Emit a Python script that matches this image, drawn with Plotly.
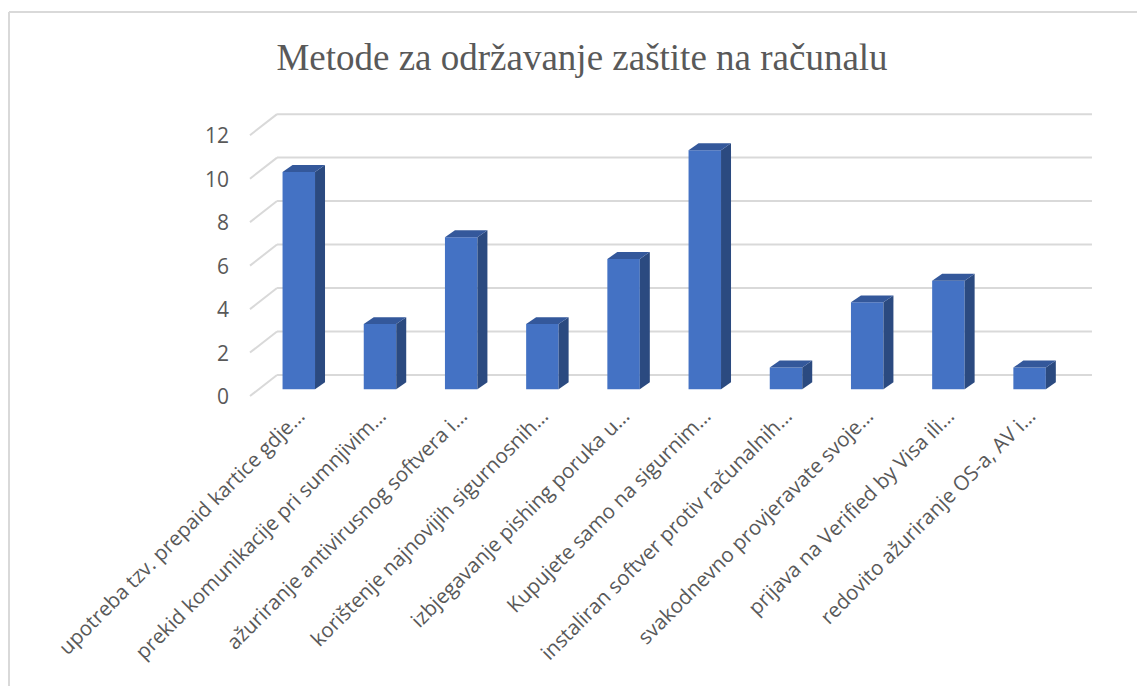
import plotly.graph_objects as go

title = "Metode za održavanje zaštite na računalu"
categories = [
    "upotreba tzv. prepaid kartice gdje…",
    "prekid komunikacije pri sumnjivim…",
    "ažuriranje antivirusnog softvera i…",
    "korištenje najnovijih sigurnosnih…",
    "izbjegavanje pishing poruka u…",
    "Kupujete samo na sigurnim…",
    "instaliran softver protiv računalnih…",
    "svakodnevno provjeravate svoje…",
    "prijava na Verified by Visa ili…",
    "redovito ažuriranje OS-a, AV i…",
]
values = [10, 3, 7, 3, 6, 11, 1, 4, 5, 1]
y_ticks = [0, 2, 4, 6, 8, 10, 12]

# 3D look parameters (in data units)
BAR_W = 0.4
DEPTH_X = 0.123
DEPTH_Y = 0.32
FRONT_DY = -0.31
BACK_DY = 0.66
FLOOR_FRONT_X = -0.601
FLOOR_BACK_X = -0.268
WALL_RIGHT_X = 9.768

FRONT = "#4472C4"
SIDE = "#2B4A80"
TOP = "#34589B"
GRID = "#D9D9D9"
TEXT = "#595959"

xs = list(range(len(categories)))
fig = go.Figure()

fig.add_trace(go.Bar(x=xs, y=values, width=BAR_W, marker=dict(color=FRONT, line=dict(width=0)),
                     hoverinfo="skip", showlegend=False))

# side and top faces
for x, v in zip(xs, values):
    r = x + BAR_W / 2
    l = x - BAR_W / 2
    fig.add_trace(go.Scatter(
        x=[r, r + DEPTH_X, r + DEPTH_X, r, r],
        y=[0, DEPTH_Y, v + DEPTH_Y, v, 0],
        fill="toself", fillcolor=SIDE, mode="lines", line=dict(width=0, color=SIDE),
        hoverinfo="skip", showlegend=False))
    fig.add_trace(go.Scatter(
        x=[l, l + DEPTH_X, r + DEPTH_X, r, l],
        y=[v, v + DEPTH_Y, v + DEPTH_Y, v, v],
        fill="toself", fillcolor=TOP, mode="lines", line=dict(width=0, color=TOP),
        hoverinfo="skip", showlegend=False))

shapes = []
for t in y_ticks:
    shapes.append(dict(type="line", xref="x", yref="y", layer="below",
                       x0=FLOOR_FRONT_X, y0=t + FRONT_DY, x1=FLOOR_BACK_X, y1=t + BACK_DY,
                       line=dict(color=GRID, width=2)))
    shapes.append(dict(type="line", xref="x", yref="y", layer="below",
                       x0=FLOOR_BACK_X, y0=t + BACK_DY, x1=WALL_RIGHT_X, y1=t + BACK_DY,
                       line=dict(color=GRID, width=2)))

# figure geometry (page has an 8px body margin)
L, R, T, B = 232, 53, 92, 284
W, H = 1145, 686
pw, ph = W - L - R, H - T - B
bx = (1 - L) / pw
by = (H - B - 4) / ph
shapes.append(dict(type="line", xref="paper", yref="paper", x0=bx, x1=bx, y0=by, y1=-2,
                   line=dict(color=GRID, width=2)))
shapes.append(dict(type="line", xref="paper", yref="paper", x0=bx, x1=2, y0=by, y1=by,
                   line=dict(color=GRID, width=2)))

fig.update_layout(
    width=W, height=H,
    margin=dict(l=L, r=R, t=T, b=B),
    paper_bgcolor="white", plot_bgcolor="white",
    shapes=shapes,
    title=dict(text=title, x=574 / W, xanchor="center", xref="container",
               y=1 - 49 / H, yanchor="middle", yref="container",
               font=dict(family="Liberation Serif", size=37, color=TEXT)),
    xaxis=dict(range=[-0.724, 9.867], tickvals=xs, ticktext=categories, tickangle=-45,
               showgrid=False, zeroline=False, showline=False, ticks="",
               ticklabelstandoff=-11,
               tickfont=dict(family="Open Sans", size=20.5, color=TEXT)),
    yaxis=dict(range=[-0.952, 13.31], tickvals=[t - 0.35 for t in y_ticks],
               ticktext=[str(t) for t in y_ticks],
               showgrid=False, zeroline=False, showline=False, ticks="",
               ticklabelstandoff=10,
               tickfont=dict(family="Open Sans", size=21, color=TEXT)),
)

fig.write_html("out.html")
